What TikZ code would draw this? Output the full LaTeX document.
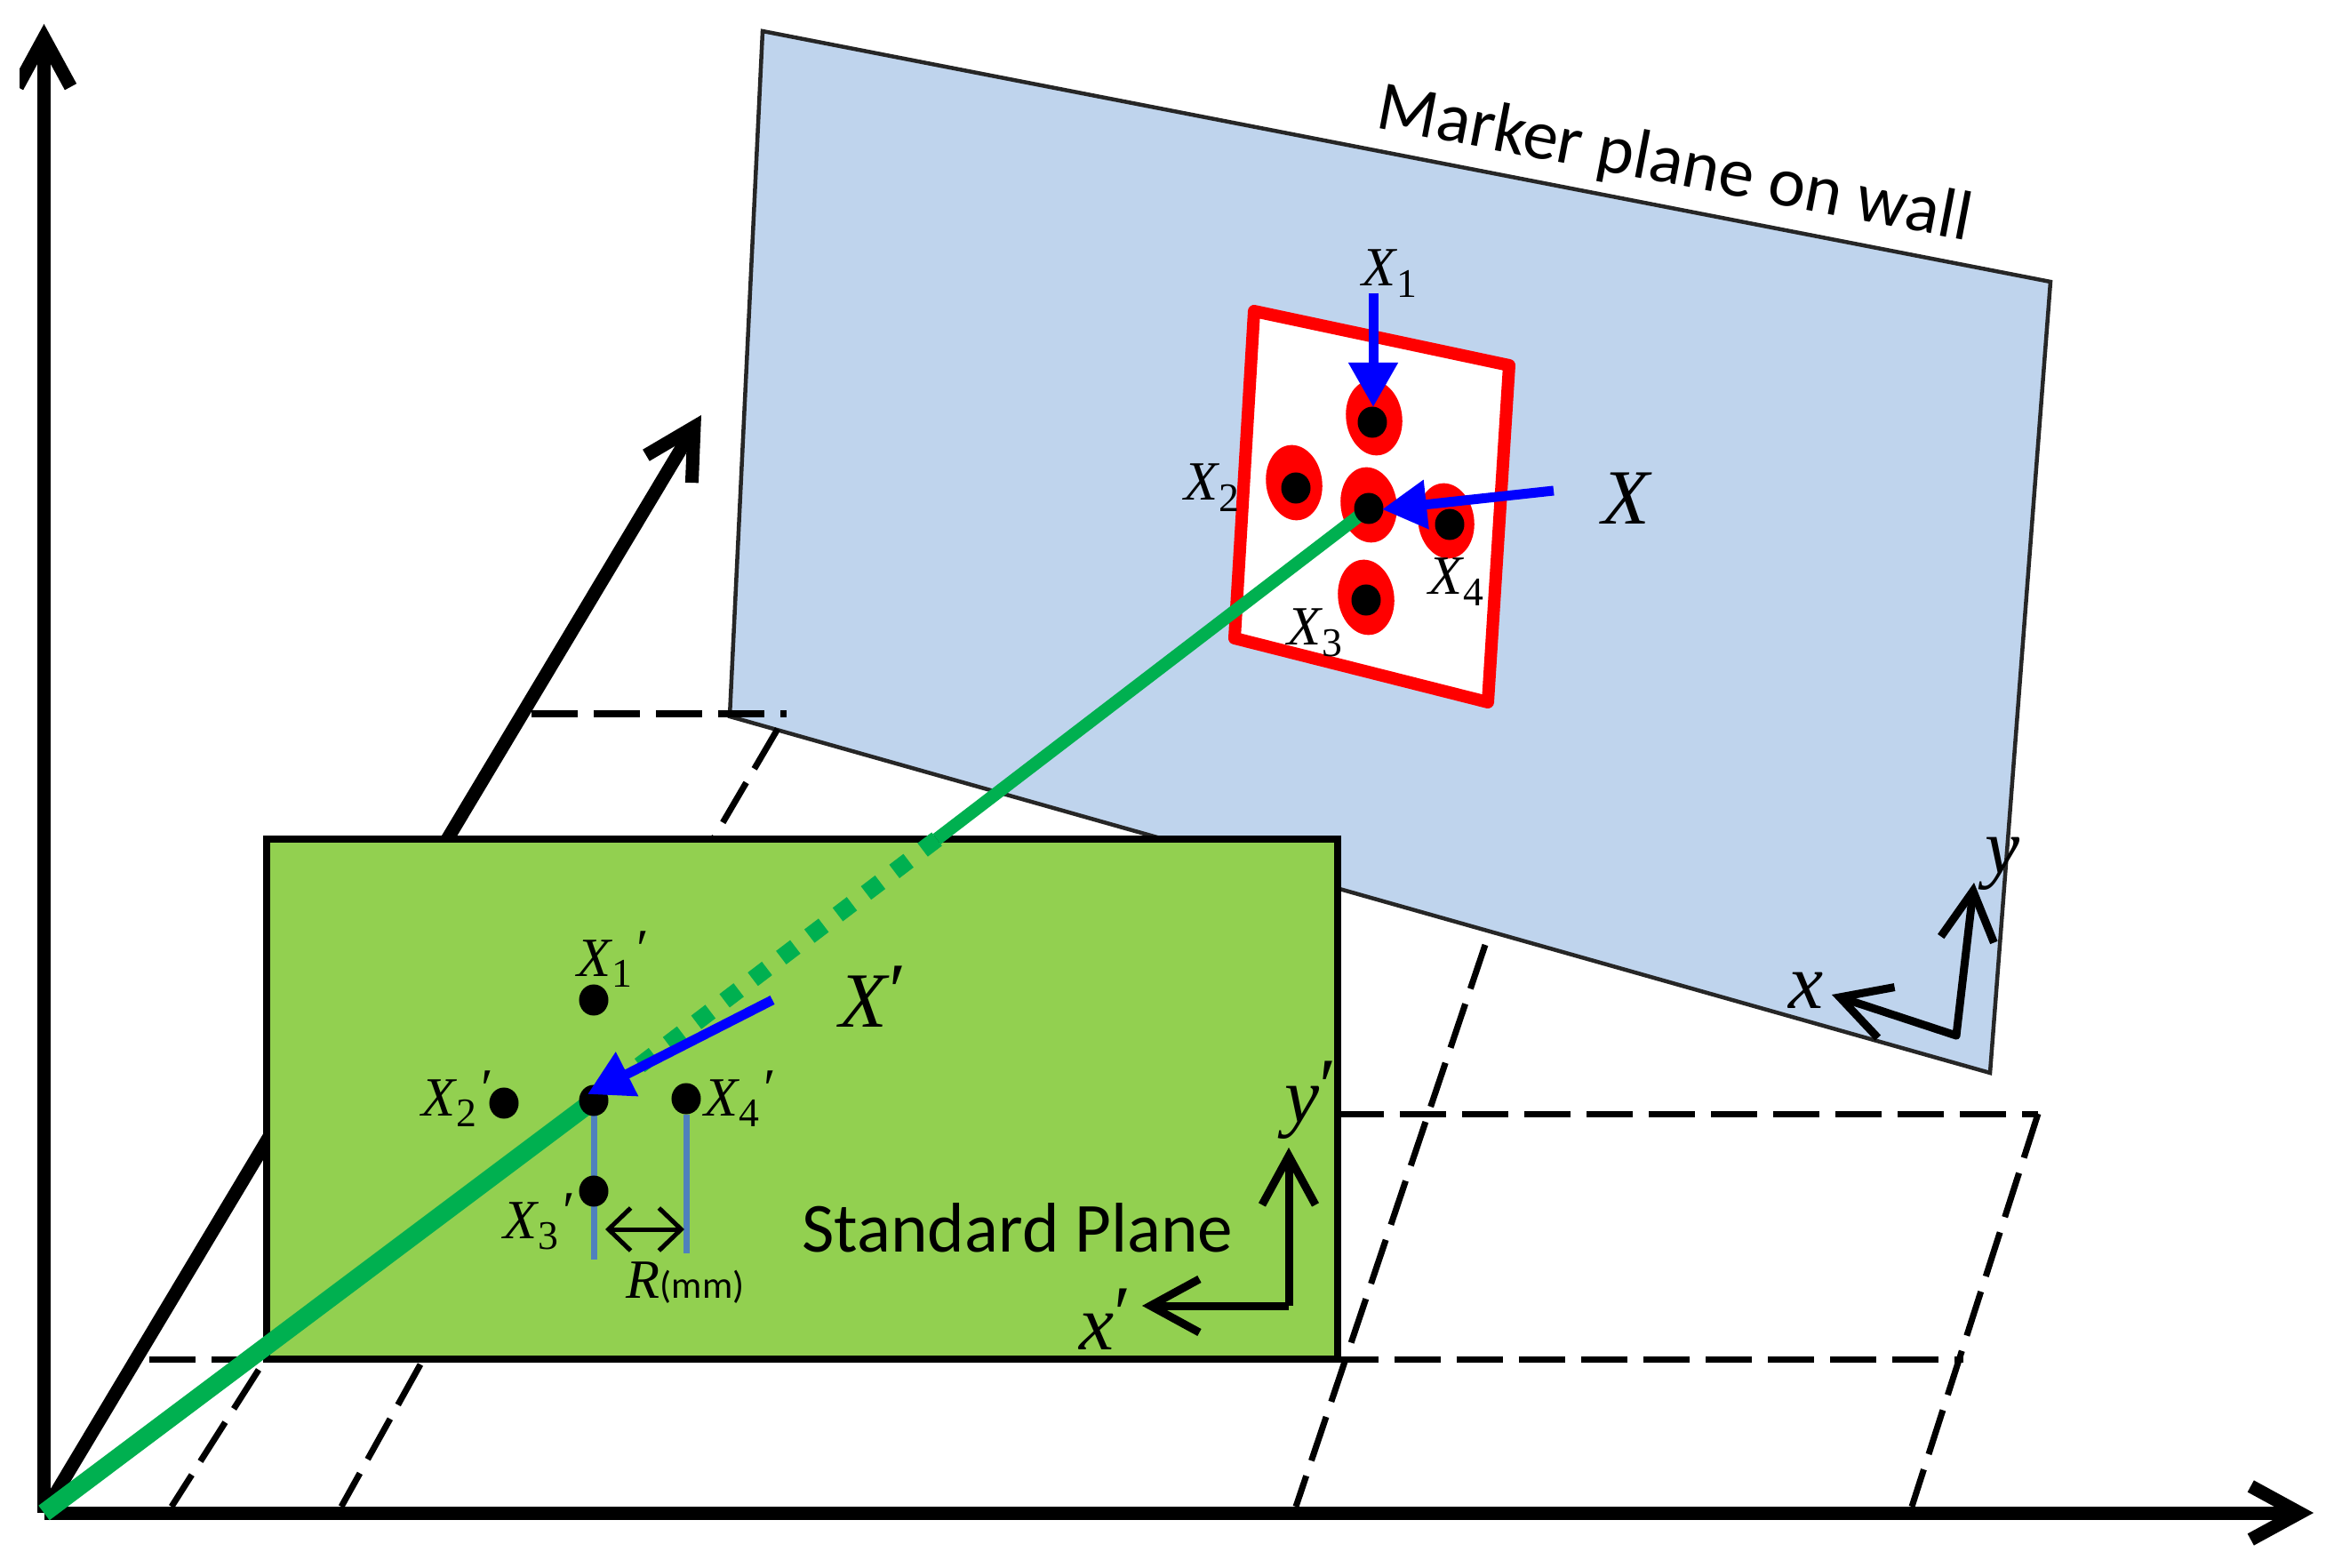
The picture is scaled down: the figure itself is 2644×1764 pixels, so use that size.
\documentclass[tikz,border=0pt]{standalone}
\usepackage{fontspec}
\usetikzlibrary{arrows.meta,shapes.geometric}
\setmainfont{Carlito}
\newfontfamily\mth{Liberation Serif}
\definecolor{planeblue}{HTML}{BFD4ED}
\definecolor{stdgreen}{HTML}{92D050}
\definecolor{raygreen}{HTML}{00B050}
\definecolor{tickblue}{HTML}{4F81BD}
\newcommand{\mklab}[1]{{\mth\fontsize{17.7}{20}\selectfont\itshape X\upshape\kern.02em\raisebox{-.2em}{\fontsize{13}{14}\selectfont #1}}}
\newcommand{\mkpr}{\raisebox{.28em}{\kern.12em{\mth\fontsize{17.7}{20}\selectfont\char"2032}}}
\newcommand{\bigmath}[1]{{\mth\fontsize{25}{28}\selectfont\itshape #1}}
\tikzset{
  axis/.style={line width=.15cm,-{Straight Barb[length=.55cm,width=.60cm]},line cap=butt,line join=round},
  frame/.style={line width=.09cm,-{Straight Barb[length=.55cm,width=.60cm]},line join=round},
  dashline/.style={line width=.07cm,dash pattern=on .52cm off .18cm},
  ptr/.style={draw=blue,line width=.11cm,-{Triangle[length=.50cm,width=.53cm]}},
  dot/.style={ellipse,fill=black,minimum width=.33cm,minimum height=.35cm,inner sep=0pt},
  spot/.style={ellipse,fill=red,minimum width=.63cm,minimum height=.85cm,inner sep=0pt,rotate=8},
  lab/.style={inner sep=0pt,anchor=base west},
  words/.style={inner sep=0pt,anchor=base,font=\fontsize{22.5}{26}\selectfont},
  tick/.style={draw=tickblue,line width=.07cm}
}
\begin{document}
\begin{tikzpicture}[x=.01cm,y=-.01cm]
\useasboundingbox (0,0) rectangle (2644,1764);
% named points
\coordinate (O) at (49.5,1702);
\coordinate (Ytip) at (49.5,27);
\coordinate (Xtip) at (2603,1702);
\coordinate (Ztip) at (789,467);
\coordinate (PA) at (858,35);
\coordinate (PB) at (2307,317);
\coordinate (PC) at (2239,1207);
\coordinate (PD) at (821,806);
\coordinate (GA) at (300,944);
\coordinate (GB) at (1505,944);
\coordinate (GC) at (1505,1529);
\coordinate (GD) at (300,1529);
% plane
\draw[fill=planeblue,draw=black!85,line width=.045cm] (PA) -- (PB) -- (PC) -- (PD) -- cycle;
% dashed grid
\coordinate (h1a) at (598,803); \coordinate (h1b) at (885,803);
\coordinate (h2a) at (1505,1253); \coordinate (h2b) at (2293,1253);
\coordinate (h3a) at (168,1529); \coordinate (h3b) at (2209,1529);
\coordinate (s1a) at (291,1541); \coordinate (s1b) at (193,1695);
\coordinate (s2a) at (473,1535); \coordinate (s2b) at (384,1695);
\coordinate (s2c) at (875,820); \coordinate (s2d) at (790,965);
\coordinate (s3a) at (1671,1063); \coordinate (s3b) at (1458,1695);
\coordinate (s4a) at (2293,1253); \coordinate (s4b) at (2151,1695);
\draw[dashline] (h1a) -- (h1b);
\draw[dashline] (h2a) -- (h2b);
\draw[dashline] (h3a) -- (h3b);
\draw[dashline] (s1a) -- (s1b);
\draw[dashline] (s2a) -- (s2b);
\draw[dashline] (s2c) -- (s2d);
\draw[dashline] (s3a) -- (s3b);
\draw[dashline] (s4a) -- (s4b);
% axes
\begin{scope}
\clip (22,0) rectangle (2644,1764);
\draw[axis] (O) -- (Ytip);
\end{scope}
\draw[axis] (O) -- (Xtip);
\draw[axis] (O) -- (Ztip);
% green plane
\draw[fill=stdgreen,draw=black,line width=.08cm] (GA) -- (GB) -- (GC) -- (GD) -- cycle;
% marker
\draw[fill=white,draw=red,line width=.14cm,line join=round] (1411,350) -- (1698,411) -- (1674,790) -- (1389,718) -- cycle;
\node[spot] (s1) at (1546,470) {};
\node[spot] (s2) at (1456,543) {};
\node[spot] (s3) at (1537,672) {};
\node[spot] (s4) at (1627,586) {};
\node[spot] (s0) at (1540,568) {};
\node[dot] (d1) at (1544,475) {};
\node[dot] (d2) at (1458,549) {};
\node[dot] (d3) at (1537,675) {};
\node[dot] (d4) at (1631,590) {};
\coordinate (c0) at (1540,572);
\coordinate (cj) at (1054,944);
\coordinate (p0c) at (668,1238);
% green ray
\draw[draw=raygreen,line width=.145cm] (c0) -- (cj);
\draw[draw=raygreen,line width=.19cm,dash pattern=on .20cm off .20cm] (cj) -- (p0c);
\draw[draw=raygreen,line width=.205cm] (p0c) -- (O);
\node[dot] (d0) at (c0) {};
% standard plane ticks
\coordinate (t1) at (668,1417); \coordinate (t2) at (772,1410);
\node[dot] (p1) at (668,1125) {};
\node[dot] (p2) at (567,1241) {};
\node[dot] (p4) at (772,1236) {};
\draw[tick] (p0c) -- (t1);
\draw[tick] (p4) -- (t2);
\node[dot] (p0) at (p0c) {};
\node[dot] (p3) at (668,1340) {};
\coordinate (ra) at (681,1383); \coordinate (rb) at (770,1383);
\draw[line width=.05cm,{Straight Barb[length=.25cm,width=.48cm]}-{Straight Barb[length=.25cm,width=.48cm]},line join=round] (ra) -- (rb);
% blue pointers
\coordinate (b1) at (1545,330); \coordinate (b1t) at (1545,458);
\coordinate (b0) at (1748,552); \coordinate (b0t) at (1555,573);
\coordinate (bp) at (869,1125); \coordinate (bpt) at (661,1231);
\draw[ptr] (b1) -- (b1t);
\draw[ptr] (b0) -- (b0t);
\draw[ptr] (bp) -- (bpt);
% small frames
\coordinate (fc) at (2201,1165); \coordinate (fy) at (2221,993); \coordinate (fx) at (2061,1119);
\draw[frame,line cap=round] (fc) -- (fy);
\draw[frame,line cap=round] (fc) -- (fx);
\coordinate (gc) at (1450,1469); \coordinate (gy) at (1450,1291); \coordinate (gx) at (1285,1469);
\draw[frame] (gc) -- (gy);
\draw[frame] (gc) -- (gx);
% labels
\node[lab] (l1) at (1532,322) {\mklab{1}};
\node[lab] (l2) at (1332,563) {\mklab{2}};
\node[lab] (l3) at (1448,726) {\mklab{3}};
\node[lab] (l4) at (1607,669) {\mklab{4}};
\node[lab] (lX) at (1802,590) {\bigmath{X}};
\node[lab] (lXp) at (944,1155) {\bigmath{X}\raisebox{.3em}{\kern.06em{\mth\fontsize{25}{28}\selectfont\char"2032}}};
\node[lab] (l1p) at (649,1098) {\mklab{1}\mkpr};
\node[lab] (l2p) at (474,1255) {\mklab{2}\mkpr};
\node[lab] (l3p) at (566,1393) {\mklab{3}\mkpr};
\node[lab] (l4p) at (792,1255) {\mklab{4}\mkpr};
\node[lab] (lR) at (704,1460) {{\mth\fontsize{17.7}{20}\selectfont\itshape R}{\fontsize{12.2}{14}\selectfont(mm)}};
\node[lab] (lx) at (2012,1134) {\bigmath{x}};
\node[lab] (ly) at (2233,982) {\bigmath{y}};
\node[lab] (lyp) at (1445,1262) {\bigmath{y}\raisebox{.3em}{{\mth\fontsize{25}{28}\selectfont\char"2032}}};
\node[lab] (lxp) at (1214,1518) {\bigmath{x}\raisebox{.3em}{{\mth\fontsize{25}{28}\selectfont\char"2032}}};
\node[words,rotate=-10.85] (mp) at (1880,207) {Marker plane on wall};
\node[words] (sp) at (1145,1408) {Standard Plane};
\end{tikzpicture}
\end{document}
